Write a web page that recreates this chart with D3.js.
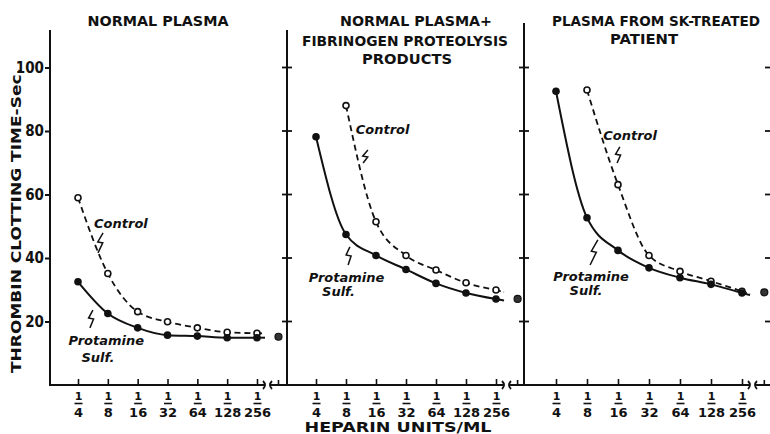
<!DOCTYPE html>
<html>
<head>
<meta charset="utf-8">
<script src="https://cdn.jsdelivr.net/npm/d3@7"></script>
<style>
  html, body { margin: 0; padding: 0; background: #fff; }
  svg { display: block; }
  text { font-family: "DejaVu Sans", "Liberation Sans", sans-serif; font-weight: bold; fill: #111; }
</style>
</head>
<body>
<svg id="chart" width="770" height="434"></svg>
<script>
// ---------------- DATA ----------------
const heparinDenominators = [4, 8, 16, 32, 64, 128, 256];   // heparin units/ml = 1/d
const panelTitles = [
  ["NORMAL PLASMA"],
  ["NORMAL PLASMA+", "FIBRINOGEN PROTEOLYSIS", "PRODUCTS"],
  ["PLASMA FROM SK-TREATED", "PATIENT"]
];
const controlValues = [
  [59.0, 35.1, 23.1, 19.9, 18.0, 16.6, 16.3],
  [null, 88.0, 51.4, 40.8, 36.2, 32.2, 29.9],
  [null, 92.9, 63.1, 40.8, 35.8, 32.7, 29.5]
];
const protamineValues = [
  [32.5, 22.5, 18.0, 15.7, 15.4, 14.9, 14.9],
  [78.2, 47.4, 40.8, 36.4, 32.0, 29.0, 27.1],
  [92.5, 52.7, 42.4, 36.9, 33.8, 31.7, 29.0]
];
const noHeparinValues = [15.2, 27.1, 29.2];
const yTickValues = [20, 40, 60, 80, 100];
const yAxisTitle = "THROMBIN  CLOTTING  TIME-Sec.";
const xAxisTitle = "HEPARIN UNITS/ML";
const seriesLabels = ["Control", "Protamine", "Sulf."];

// ---------------- LAYOUT ----------------
const svg = d3.select("#chart");
const y = d3.scaleLinear().domain([0, 100]).range([385, 67.5]);
const axisY = y(0);
const panels = [
  { axisX: 50,  first: 78,  last: 257, right: 287, top: 30,
    titleX: [158], titleY: [21], titleLen: [141],
    ann: { ctl: [3.44, 49.4], ctlS: [[2.84, 47.9], [2.67, 41.6]], pro: [2.95, 12.6], sul: [2.67, 7.2], proS: [[2.5, 23.6], [2.4, 18.0]] } },
  { axisX: 287, first: 316, last: 496, right: 524, top: 30,
    titleX: [416, 405, 407], titleY: [21, 41, 59], titleLen: [152, 206, 90],
    ann: { ctl: [4.22, 79.1], ctlS: [[3.73, 74.0], [3.57, 69.9]], pro: [3.02, 32.4], sul: [2.75, 28.0], proS: [[3.13, 43.5], [3.07, 37.8]] } },
  { axisX: 524, first: 556, last: 742, right: 772, top: 23,
    titleX: [656, 644], titleY: [21, 39], titleLen: [208, 68],
    ann: { ctl: [4.39, 77.2], ctlS: [[4.06, 75.0], [3.97, 69.9]], pro: [3.13, 32.8], sul: [2.97, 28.3], proS: [[3.35, 45.7], [3.10, 37.8]] } }
];
const extraIdx = 8.72; // position of the "no heparin" point beyond the axis break
const axisStroke = 2;

function squiggle(x1, y1, x2, y2) {
  const my = y1 + (y2 - y1) * 0.45;
  const mx = x1 + (x2 - x1) * 0.45;
  return `M${x1},${y1} L${mx - 3},${my} L${mx + 2},${my + 1} L${x2},${y2}`;
}

panels.forEach((p, i) => {
  const x = d3.scaleLinear().domain([2, 8]).range([p.first, p.last]);
  const g = svg.append("g");

  g.append("line").attr("x1", p.axisX).attr("x2", p.axisX)
    .attr("y1", p.top).attr("y2", axisY + 1)
    .attr("stroke", "#111").attr("stroke-width", axisStroke);

  if (i === 0) {
    const ya = d3.axisLeft(y).tickValues(yTickValues).tickSize(5).tickPadding(1);
    const yg = g.append("g").attr("transform", `translate(${p.axisX},0)`).call(ya);
    yg.select(".domain").remove();
    yg.selectAll("line").attr("stroke", "#111").attr("stroke-width", 2);
    yg.selectAll("text")
      .style("font-family", "'Liberation Sans Narrow', 'DejaVu Sans Condensed', sans-serif")
      .style("font-weight", "bold").style("font-size", "15px").attr("fill", "#111");
  } else {
    g.selectAll("line.dt").data(yTickValues).join("line")
      .attr("x1", p.axisX - 5).attr("x2", p.axisX + 5)
      .attr("y1", d => y(d)).attr("y2", d => y(d))
      .attr("stroke", "#111").attr("stroke-width", 1.8);
  }
  if (i === 2) {
    g.selectAll("line.rt").data(yTickValues).join("line")
      .attr("x1", 765).attr("x2", 772)
      .attr("y1", d => y(d)).attr("y2", d => y(d))
      .attr("stroke", "#111").attr("stroke-width", 1.8);
  }

  // horizontal axis with break
  const bx = p.last + 7;
  g.append("line").attr("x1", p.axisX).attr("x2", bx)
    .attr("y1", axisY).attr("y2", axisY).attr("stroke", "#111").attr("stroke-width", axisStroke);
  g.append("line").attr("x1", bx + 7).attr("x2", p.right)
    .attr("y1", axisY).attr("y2", axisY).attr("stroke", "#111").attr("stroke-width", axisStroke);
  g.append("path").attr("d", `M${bx - 1},${axisY - 4} Q${bx + 3},${axisY} ${bx - 1},${axisY + 4}`)
    .attr("fill", "none").attr("stroke", "#111").attr("stroke-width", 1.8);
  g.append("path").attr("d", `M${bx + 8},${axisY - 4} Q${bx + 4},${axisY} ${bx + 8},${axisY + 4}`)
    .attr("fill", "none").attr("stroke", "#111").attr("stroke-width", 1.8);
  g.append("line").attr("x1", x(extraIdx)).attr("x2", x(extraIdx))
    .attr("y1", axisY - 5).attr("y2", axisY).attr("stroke", "#111").attr("stroke-width", 1.6);

  const xa = d3.axisBottom(x).tickValues(d3.range(2, 9)).tickSizeInner(-6).tickSizeOuter(0).tickFormat("");
  const xg = g.append("g").attr("transform", `translate(0,${axisY})`).call(xa);
  xg.select(".domain").remove();
  xg.selectAll(".tick line").attr("stroke", "#111").attr("stroke-width", 1.6);
  const ticks = xg.selectAll(".tick");
  ticks.append("text").attr("y", 15).attr("text-anchor", "middle")
    .style("font-size", "11px").attr("fill", "#111").text("1");
  ticks.append("line").attr("x1", -4).attr("x2", 4).attr("y1", 18.5).attr("y2", 18.5)
    .attr("stroke", "#111").attr("stroke-width", 1.6);
  ticks.append("text").attr("y", 32).attr("text-anchor", "middle")
    .style("font-size", "13px").attr("fill", "#111")
    .text((d, k) => heparinDenominators[k]);

  panelTitles[i].forEach((t, k) => {
    g.append("text").attr("x", p.titleX[k]).attr("y", p.titleY[k] + 5)
      .attr("text-anchor", "middle").style("font-size", "14px")
      .attr("textLength", p.titleLen[k]).attr("lengthAdjust", "spacingAndGlyphs")
      .text(t);
  });

  const ctl = heparinDenominators.map((d, k) => ({ idx: k + 2, v: controlValues[i][k] })).filter(d => d.v != null);
  const pro = heparinDenominators.map((d, k) => ({ idx: k + 2, v: protamineValues[i][k] })).filter(d => d.v != null);
  const line = d3.line().x(d => x(d.idx)).y(d => y(d.v)).curve(d3.curveMonotoneX);

  function extension(data) {
    const a = data[data.length - 2], b = data[data.length - 1];
    const slope = (y(b.v) - y(a.v)) / (x(b.idx) - x(a.idx));
    return `M${x(b.idx)},${y(b.v)} L${x(b.idx) + 8},${y(b.v) + slope * 8}`;
  }

  g.append("path").attr("d", line(ctl)).attr("fill", "none")
    .attr("stroke", "#111").attr("stroke-width", 1.8).attr("stroke-dasharray", "6,4");
  g.append("path").attr("d", extension(ctl)).attr("fill", "none")
    .attr("stroke", "#111").attr("stroke-width", 1.8).attr("stroke-dasharray", "5,3");
  g.append("path").attr("d", line(pro)).attr("fill", "none")
    .attr("stroke", "#111").attr("stroke-width", 2);
  g.append("path").attr("d", extension(pro)).attr("fill", "none")
    .attr("stroke", "#111").attr("stroke-width", 2);

  g.selectAll("circle.c").data(ctl).join("circle")
    .attr("cx", d => x(d.idx)).attr("cy", d => y(d.v)).attr("r", 3)
    .attr("fill", "#fff").attr("stroke", "#111").attr("stroke-width", 1.6);
  g.selectAll("circle.p").data(pro).join("circle")
    .attr("cx", d => x(d.idx)).attr("cy", d => y(d.v)).attr("r", 3.8)
    .attr("fill", "#111");

  g.append("circle").attr("cx", x(extraIdx)).attr("cy", y(noHeparinValues[i])).attr("r", 3.5)
    .attr("fill", "#333").attr("stroke", "#111").attr("stroke-width", 1.2);

  const a = p.ann;
  const lab = (pos, txt) => g.append("text").attr("x", x(pos[0])).attr("y", y(pos[1]))
    .attr("text-anchor", "middle").style("font-size", "13px").style("font-style", "italic").text(txt);
  lab(a.ctl, seriesLabels[0]);
  lab(a.pro, seriesLabels[1]);
  lab(a.sul, seriesLabels[2]);
  [a.ctlS, a.proS].forEach(s => {
    g.append("path").attr("d", squiggle(x(s[0][0]), y(s[0][1]), x(s[1][0]), y(s[1][1])))
      .attr("fill", "none").attr("stroke", "#111").attr("stroke-width", 1.5);
  });
});

svg.append("text").attr("transform", `translate(21,220.5) rotate(-90)`)
  .attr("text-anchor", "middle").style("font-size", "14px")
  .attr("textLength", 305).attr("lengthAdjust", "spacingAndGlyphs")
  .text(yAxisTitle);
svg.append("text").attr("x", 398).attr("y", 432)
  .attr("text-anchor", "middle").style("font-size", "14px")
  .attr("textLength", 187).attr("lengthAdjust", "spacingAndGlyphs")
  .text(xAxisTitle);
</script>
</body>
</html>
